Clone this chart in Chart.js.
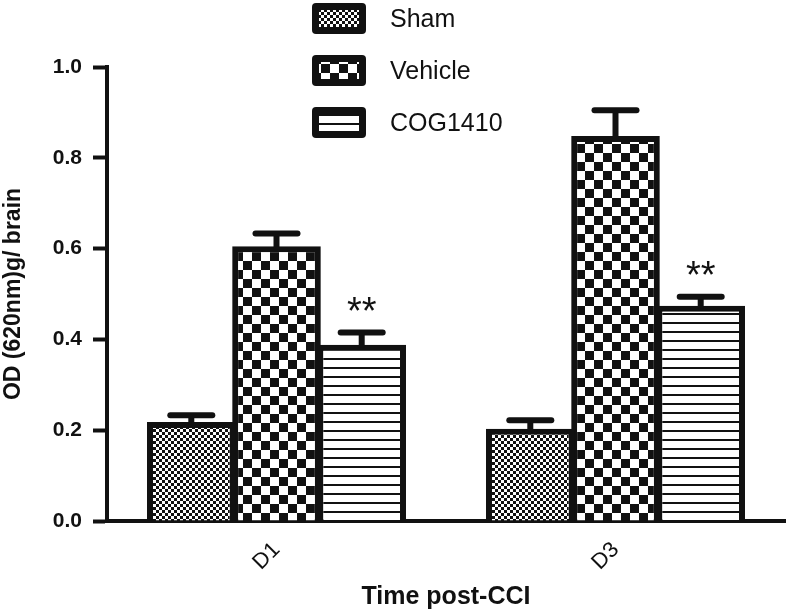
<!DOCTYPE html>
<html><head><meta charset="utf-8">
<script src="https://cdn.jsdelivr.net/npm/chart.js@4.4.1/dist/chart.umd.min.js"></script>
<style>
html,body{margin:0;padding:0;background:#fff;}
#wrap{position:relative;width:792px;height:614px;overflow:hidden;}
#c{position:absolute;left:0;top:0;}
.leg{position:absolute;left:312px;height:31px;display:flex;align-items:center;font-family:"Liberation Sans",Arial,sans-serif;font-size:25px;color:#111;white-space:nowrap;}
.leg canvas{margin-right:24px;display:block;}
</style></head><body>
<div id="wrap"><canvas id="c" width="792" height="614" style="width:792px;height:614px"></canvas><div id="legend"></div></div>
<script>
// ---- data ----
const categories = ['D1', 'D3'];
const seriesNames = ['Sham', 'Vehicle', 'COG1410'];
const shamValues = [0.218, 0.203];
const vehicleValues = [0.605, 0.848];
const cogValues = [0.388, 0.474];
const shamErrors = [0.015, 0.019];
const vehicleErrors = [0.028, 0.057];
const cogErrors = [0.027, 0.020];
const cogMarks = ['**', '**'];
const yTicks = [0, 0.2, 0.4, 0.6, 0.8, 1.0];

const FONT = '"Liberation Sans", Arial, sans-serif';
const INK = '#111';

function tile(kind) {
  const c = document.createElement('canvas');
  const g = c.getContext('2d');
  if (kind === 'fine') {
    c.width = c.height = 6;
    g.fillStyle = '#fff'; g.fillRect(0, 0, 6, 6);
    g.fillStyle = INK; g.fillRect(0, 0, 3, 3); g.fillRect(3, 3, 3, 3);
  } else if (kind === 'coarse') {
    c.width = c.height = 18;
    g.fillStyle = '#fff'; g.fillRect(0, 0, 18, 18);
    g.fillStyle = INK; g.fillRect(0, 0, 9, 9); g.fillRect(9, 9, 9, 9);
  } else {
    c.width = 9; c.height = 9;
    g.fillStyle = '#fff'; g.fillRect(0, 0, 9, 9);
    g.fillStyle = INK; g.fillRect(0, 7, 9, 2);
  }
  return c;
}
const kinds = ['fine', 'coarse', 'lines'];
const mainCtx = document.getElementById('c').getContext('2d');
const patterns = kinds.map(k => mainCtx.createPattern(tile(k), 'repeat'));

// legend (HTML)
const legendTops = [3, 55, 107];
const legendEl = document.getElementById('legend');
seriesNames.forEach((name, i) => {
  const row = document.createElement('div');
  row.className = 'leg';
  row.style.top = legendTops[i] + 'px';
  const sw = document.createElement('canvas');
  sw.width = 54; sw.height = 31;
  const g = sw.getContext('2d');
  g.fillStyle = INK;
  g.beginPath(); g.roundRect(0, 0, 54, 31, 4); g.fill();
  g.fillStyle = g.createPattern(tile(kinds[i]), 'repeat');
  g.fillRect(7, 7, 40, 17);
  row.appendChild(sw);
  const t = document.createElement('span');
  t.textContent = name;
  row.appendChild(t);
  legendEl.appendChild(row);
});

const errorBars = {
  id: 'errorBars',
  afterDatasetsDraw(chart) {
    const ctx = chart.ctx, ys = chart.scales.y;
    chart.data.datasets.forEach((ds, di) => {
      const meta = chart.getDatasetMeta(di);
      meta.data.forEach((bar, i) => {
        const top = ys.getPixelForValue(ds.data[i] + ds.errors[i]);
        ctx.save();
        ctx.strokeStyle = INK;
        ctx.lineWidth = 6;
        ctx.lineCap = 'butt';
        ctx.beginPath(); ctx.moveTo(bar.x, bar.y + 3); ctx.lineTo(bar.x, top); ctx.stroke();
        ctx.lineCap = 'round';
        ctx.beginPath(); ctx.moveTo(bar.x - 21, top); ctx.lineTo(bar.x + 21, top); ctx.stroke();
        if (ds.marks && ds.marks[i]) {
          ctx.fillStyle = INK;
          ctx.font = '38px ' + FONT;
          ctx.textAlign = 'center';
          ctx.textBaseline = 'alphabetic';
          ctx.fillText(ds.marks[i], bar.x, top - 9);
        }
        ctx.restore();
      });
    });
  }
};

const seriesValues = [shamValues, vehicleValues, cogValues];
const seriesErrors = [shamErrors, vehicleErrors, cogErrors];
const seriesMarks = [null, null, cogMarks];

new Chart(mainCtx, {
  type: 'bar',
  data: {
    labels: categories,
    datasets: seriesNames.map((name, i) => ({
      label: name,
      data: seriesValues[i],
      errors: seriesErrors[i],
      marks: seriesMarks[i],
      backgroundColor: patterns[i],
      borderColor: INK,
      borderWidth: 6,
      borderSkipped: 'bottom',
      categoryPercentage: 0.754,
      barPercentage: 1.04
    }))
  },
  options: {
    responsive: false,
    animation: false,
    layout: { padding: { top: 67, right: 7, bottom: 0, left: 0 } },
    plugins: { legend: { display: false }, tooltip: { enabled: false } },
    scales: {
      x: {
        offset: true,
        grid: { display: false },
        border: { display: true, color: INK, width: 4 },
        ticks: { color: INK, font: { family: FONT, size: 22 }, minRotation: 45, maxRotation: 45, padding: 8 },
        title: { display: true, text: 'Time post-CCI', color: INK, font: { family: FONT, size: 25, weight: 'bold' }, padding: { top: 0, bottom: 2 } },
        afterFit(s) { s.height = 93; }
      },
      y: {
        min: 0, max: 1,
        afterBuildTicks(s) { s.ticks = yTicks.map(v => ({ value: v })); },
        ticks: { color: INK, font: { family: FONT, size: 21, weight: 'bold' }, padding: 11, callback: v => Number(v).toFixed(1) },
        grid: { drawOnChartArea: false, drawTicks: true, tickLength: 14, tickWidth: 4, tickColor: INK },
        border: { display: true, color: INK, width: 4 },
        title: { display: true, text: 'OD (620nm)g/ brain', color: INK, font: { family: FONT, size: 23, weight: 'bold' }, padding: { top: 0, bottom: 4 } },
        afterFit(s) { s.width = 107; }
      }
    }
  },
  plugins: [errorBars]
});
</script>
</body></html>
